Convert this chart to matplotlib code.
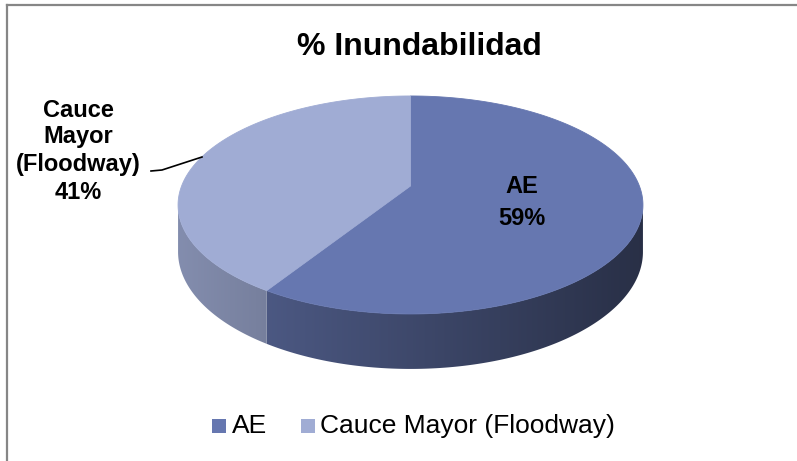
import numpy as np
import matplotlib
matplotlib.use("Agg")
import matplotlib.pyplot as plt
from matplotlib.patches import Polygon, Rectangle
from matplotlib.lines import Line2D

# ---- data ----
title = "% Inundabilidad"
categories = ["AE", "Cauce Mayor (Floodway)"]
values = [59, 41]
label_lines = [["AE", "59%"], ["Cauce", "Mayor", "(Floodway)", "41%"]]
top_colors = ["#6677B0", "#A0ACD4"]

W, H = 797, 461
fig = plt.figure(figsize=(W / 100, H / 100), dpi=100)
fig.patch.set_facecolor("white")
ax = fig.add_axes([0, 0, 1, 1])
ax.set_xlim(0, W)
ax.set_ylim(H, 0)
ax.axis("off")

# 3-D pie projection (perspective), pixel units
CX, CY, RX, RY, K, DEPTH = 410.5, 186.0, 228.9, 105.7, 0.174, 45.4

def proj(t, z=0.0):
    u, v = np.cos(t), np.sin(t)
    s = 1.0 / (1.0 + K * v)
    return CX + RX * u * s, CY - RY * v * s + z * DEPTH * s

fracs = np.array(values, dtype=float) / np.sum(values)
cum = np.concatenate([[0], np.cumsum(fracs)])
angles = [(90 - cum[i] * 360, 90 - cum[i + 1] * 360) for i in range(len(values))]

def shade(x):
    xn = (x - 410.5) / 232.5
    return 0.82 - (xn + 1.0) / 2.0 * 0.42

t_left = -180 + np.degrees(np.arcsin(K))
t_right = -np.degrees(np.arcsin(K))

# sides
for (a1, a2), c in zip(angles, top_colors):
    lo, hi = min(a1, a2), max(a1, a2)
    for shift in (0, -360, 360):
        l, h = max(lo + shift, t_left), min(hi + shift, t_right)
        if h <= l:
            continue
        ts = np.radians(np.linspace(l, h, 300))
        tx, ty = proj(ts, 0)
        bx, by = proj(ts[::-1], 1)
        verts = np.column_stack([np.concatenate([tx, bx]), np.concatenate([ty, by])])
        base = np.array(matplotlib.colors.to_rgb(c))
        xs = np.linspace(150, 670, 520)
        img = np.clip(base[None, :] * shade(xs)[:, None], 0, 1)[None, :, :]
        poly = Polygon(verts, closed=True, facecolor="none", edgecolor="none")
        ax.add_patch(poly)
        im = ax.imshow(img, extent=(150, 670, 400, 150), aspect="auto",
                       interpolation="bilinear", zorder=1)
        im.set_clip_path(poly)

# top face
for (a1, a2), c in zip(angles, top_colors):
    ts = np.radians(np.linspace(a1, a2, 400))
    x, y = proj(ts, 0)
    ox, oy = proj(np.array([0.0]), 0)
    verts = np.column_stack([np.concatenate([[CX], x]), np.concatenate([[CY], y])])
    ax.add_patch(Polygon(verts, closed=True, facecolor=c, edgecolor=c,
                         linewidth=0.6, zorder=3))

ax.set_xlim(0, W)
ax.set_ylim(H, 0)

def px(x, y):
    return (x / W, 1 - y / H)

ft = fig.transFigure
fig.add_artist(Line2D([7 / W, 7 / W], [1 - 5 / H, 0], transform=ft,
                      color="#868686", linewidth=1.6))
fig.add_artist(Line2D([7 / W, 1], [1 - 5 / H, 1 - 5 / H], transform=ft,
                      color="#868686", linewidth=1.6))

font = "Liberation Sans"
fig.text(*px(419, 55), title, ha="center", va="baseline",
         fontsize=23, fontweight="bold", family=font)

for line, yb in zip(label_lines[0], [193, 225]):
    fig.text(*px(522, yb), line, ha="center", va="baseline", fontsize=17,
             fontweight="bold", family=font)
for line, yb in zip(label_lines[1], [117, 143, 171, 199]):
    fig.text(*px(78, yb), line, ha="center", va="baseline", fontsize=17,
             fontweight="bold", family=font)
lx = [151, 162, 202]
ly = [171, 170, 157]
fig.add_artist(Line2D([x / W for x in lx], [1 - y / H for y in ly],
                      transform=ft, color="black", linewidth=1.2))

leg_sq = [(212, 419), (301, 419)]
leg_tx = [232, 320]
for (sx, sy), tx, c, name in zip(leg_sq, leg_tx, top_colors, categories):
    fig.add_artist(Rectangle(px(sx, sy + 14), 14 / W, 14 / H, transform=ft,
                             facecolor=c, edgecolor="none"))
    fig.text(*px(tx, 433), name, ha="left", va="baseline", fontsize=19,
             family=font)

fig.savefig("out.png", dpi=100)
